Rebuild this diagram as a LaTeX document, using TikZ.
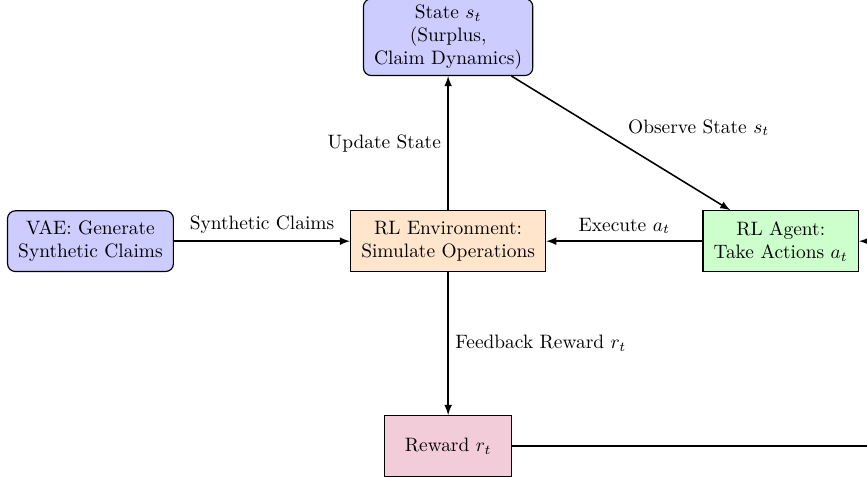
\documentclass[tikz,border=0pt]{standalone}
\usetikzlibrary{positioning}
\begin{document}
\begin{tikzpicture}[
  >=latex,
  fleche/.style={draw, thick, ->},
  %  Styles des cadres
  cadre/.style={rectangle, draw=black, semithick, inner xsep=5.5pt, inner ysep=3pt, minimum height=1.1cm, align=center},
  state_style/.style={cadre, rounded corners, fill=blue!20},
  vae_style/.style={cadre, rounded corners, fill=blue!20},
  env_style/.style={cadre, fill=orange!20},
  agent_style/.style={cadre, fill=green!20},
  reward_style/.style={cadre, fill=purple!20, minimum width=2.3cm}
]
\useasboundingbox (0,0) rectangle (15.71,8.64);

%  Cadres
\node[env_style] (env) at (8.12,4.27) {RL Environment:\\ Simulate Operations};
\node[state_style, above=2.43cm of env] (state) {State $s_t$\\ (Surplus,\\ Claim Dynamics)};
\node[vae_style, left=3.19cm of env] (vae) {VAE: Generate\\ Synthetic Claims};
\node[agent_style, right=2.83cm of env] (agent) {RL Agent:\\ Take Actions $a_t$};
\node[reward_style, below=2.59cm of env] (reward) {Reward $r_t$};
\coordinate[right=1cm of agent] (retour);

%  Fleches
\draw[fleche] (vae) -- node[above] {Synthetic Claims} (env);
\draw[fleche] (env) -- node[left] {Update State} (state);
\draw[fleche] (state) -- node[above right] {Observe State $s_t$} (agent);
\draw[fleche] (agent) -- node[above] {Execute $a_t$} (env);
\draw[fleche] (env) -- node[right] {Feedback Reward $r_t$} (reward);
\draw[fleche] (reward) -| (retour) -- (agent);
\end{tikzpicture}
\end{document}
